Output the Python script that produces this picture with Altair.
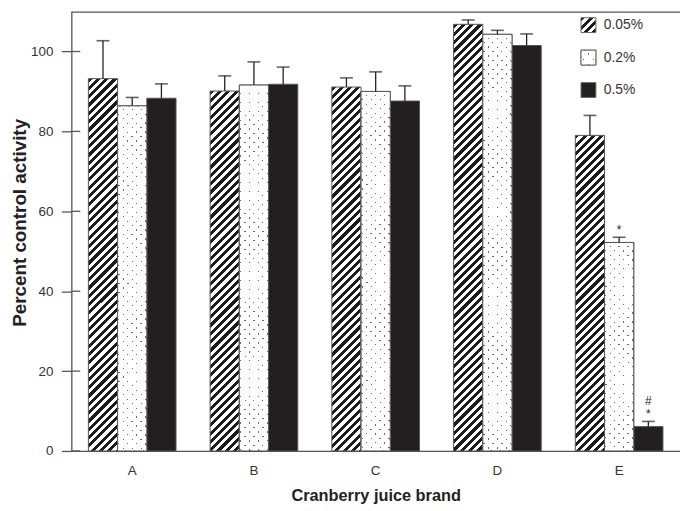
import altair as alt

# ---------------- data ----------------
brands = ["A", "B", "C", "D", "E"]
doses = ["0.05%", "0.2%", "0.5%"]
mean_005 = [93.2, 90.1, 91.1, 106.8, 79.0]
mean_02 = [86.4, 91.6, 90.0, 104.3, 52.2]
mean_05 = [88.3, 91.8, 87.6, 101.5, 6.1]
upper_005 = [102.7, 93.9, 93.4, 107.9, 84.0]
upper_02 = [88.5, 97.4, 94.9, 105.3, 53.5]
upper_05 = [91.9, 96.1, 91.4, 104.4, 7.4]
star_005 = ["", "", "", "", ""]
star_02 = ["", "", "", "", "*"]
star_05 = ["", "", "", "", "*"]
hash_05 = ["", "", "", "", "#"]
y_ticks = [0, 20, 40, 60, 80, 100]

# ---------------- layout / style ----------------
W, H = 615, 444
YMAX = 110
PXU = H / YMAX
PAD_IN, PAD_OUT = 0.28, 0.14
SUB_W = W / len(brands) * (1 - PAD_IN) / len(doses)
FONT = "Liberation Sans"
AX = "#555555"
BLACK = "#231f20"
CLEAR = "rgba(255,255,255,0)"


def r4(v):
    return round(v, 4)


def diag_grad(w, h, period, frac, color, bg, mirror=False):
    """Diagonal stripes at 45 degrees in screen space for a w x h box."""
    r = h / w
    k = (1 + r) / (1 + r * r)
    p = period / (w + h)
    stops = []
    s = 0.0
    while s < 1:
        b = min(s + frac * p, 1)
        c = min(s + p, 1)
        stops += [{"offset": r4(s), "color": color}, {"offset": r4(b), "color": color},
                  {"offset": r4(b), "color": bg}, {"offset": r4(c), "color": bg}]
        s += p
    if mirror:
        return {"gradient": "linear", "x1": 1, "y1": 0, "x2": r4(1 - k), "y2": r4(k * r),
                "stops": stops}
    return {"gradient": "linear", "x1": 0, "y1": 0, "x2": r4(k), "y2": r4(k * r),
            "stops": stops}


def hatch_grad(w, h):
    return diag_grad(w, h, 8.4, 0.5, "#1c1c1c", "white")


def dot_lines_grad(w, h, period=9.0, lw=1.1):
    frac = lw / period * 1.414
    return diag_grad(w, h, period, frac, "#6a6a6a", "white")


def dot_mask_grad(w, h, period=9.0, lw=1.1):
    frac = lw / period * 1.414
    return diag_grad(w, h, period, frac, CLEAR, "white", mirror=True)


means = [mean_005, mean_02, mean_05]
uppers = [upper_005, upper_02, upper_05]
stars = [star_005, star_02, star_05]
hashes = [["", "", "", "", ""], ["", "", "", "", ""], hash_05]

records = []
for di, d in enumerate(doses):
    for bi, b in enumerate(brands):
        v = means[di][bi]
        h = v * PXU
        if di == 0:
            f1, f2 = hatch_grad(SUB_W, h), "white"
        elif di == 1:
            f1, f2 = dot_lines_grad(SUB_W, h), dot_mask_grad(SUB_W, h)
        else:
            f1, f2 = BLACK, BLACK
        records.append({"brand": b, "dose": d, "value": v, "upper": uppers[di][bi],
                        "star": stars[di][bi], "hash": hashes[di][bi],
                        "fill1": f1, "fill2": f2})

data = alt.Data(values=records)

X = alt.X("brand:N", sort=brands, title="Cranberry juice brand",
          scale=alt.Scale(paddingInner=PAD_IN, paddingOuter=PAD_OUT),
          axis=alt.Axis(labelAngle=0, ticks=False, tickSize=0, labelPadding=12.5,
                        labelFontSize=13.5, labelColor="#333333", domainColor=AX,
                        domainWidth=1.3, titleFontSize=16.5, titleFontWeight="bold",
                        titleColor="#222222", titleBaseline="alphabetic",
                        titleX=W / 2, titleY=50))
XO = alt.XOffset("dose:N", sort=doses, scale=alt.Scale(paddingInner=0, paddingOuter=0))

Y_SCALE = alt.Scale(domain=[0, YMAX], nice=False, zero=True)
Y_AXIS = alt.Axis(values=y_ticks, grid=False, tickSize=10, tickColor=AX,
                  tickWidth=1.3, domainColor=AX, domainWidth=1.3,
                  labelFontSize=13.5, labelColor="#333333", labelPadding=8.7,
                  titleFontSize=19, titleFontWeight="bold", titleColor="#222222",
                  titleX=-52, titleY=213, titleAngle=270,
                  titleBaseline="middle", titleAlign="center")


def Yq(field):
    return alt.Y(field, type="quantitative", stack=None, title="Percent control activity",
                 scale=Y_SCALE, axis=Y_AXIS)


base = alt.Chart(data)

bars = base.mark_bar(stroke=AX, strokeWidth=1).encode(
    x=X, xOffset=XO, y=Yq("value"), fill=alt.Fill("fill1:N", scale=None))

dots_overlay = base.transform_filter(alt.datum.dose == "0.2%").mark_bar(
    stroke=AX, strokeWidth=1).encode(
    x=X, xOffset=XO, y=Yq("value"), fill=alt.Fill("fill2:N", scale=None))

err = base.mark_rule(color="#222222", strokeWidth=1.3).encode(
    x=X, xOffset=XO, y=Yq("value"), y2=alt.Y2("upper:Q"))

caps = base.mark_tick(orient="horizontal", size=13, thickness=1.6, color="#222222").encode(
    x=X, xOffset=XO, y=Yq("upper"))

star_txt = base.transform_filter(alt.datum.star != "").mark_text(
    fontSize=12, dy=-3.7, baseline="alphabetic", color="#222222", font=FONT).encode(
    x=X, xOffset=XO, y=Yq("upper"), text="star:N")

hash_txt = base.transform_filter(alt.datum.hash != "").mark_text(
    fontSize=12, dy=-16.5, baseline="alphabetic", color="#222222", font=FONT).encode(
    x=X, xOffset=XO, y=Yq("upper"), text="hash:N")

inner_ticks = alt.Chart(alt.Data(values=[{"t": t} for t in y_ticks])).mark_rule(
    color=AX, strokeWidth=1.3).encode(
    y=Yq("t"), x=alt.value(0), x2=alt.value(9))

top_frame = alt.Chart(alt.Data(values=[{"f": 0}])).mark_rule(
    color=AX, strokeWidth=1.3).encode(
    x=alt.value(0), x2=alt.value(W), y=alt.value(0.6))

# ---------------- legend ----------------
LEG_X0, LEG_SW, LEG_Y0, LEG_DY = 515, 15, 13.7, 32.8
leg_fills = [
    [hatch_grad(LEG_SW, LEG_SW)],
    [dot_lines_grad(LEG_SW, LEG_SW, period=10.6), dot_mask_grad(LEG_SW, LEG_SW, period=10.6)],
    [BLACK],
]
legend_layers = []
for i, lab in enumerate(doses):
    yc = LEG_Y0 + i * LEG_DY
    for f in leg_fills[i]:
        legend_layers.append(
            alt.Chart(alt.Data(values=[{"label": lab}])).mark_rect(
                fill=f, stroke="#666666", strokeWidth=1).encode(
                x=alt.value(LEG_X0), x2=alt.value(LEG_X0 + LEG_SW),
                y=alt.value(yc - LEG_SW / 2), y2=alt.value(yc + LEG_SW / 2)))
    legend_layers.append(
        alt.Chart(alt.Data(values=[{"label": lab}])).mark_text(
            align="left", baseline="middle", fontSize=14, color="#333333", font=FONT).encode(
            x=alt.value(LEG_X0 + LEG_SW + 8), y=alt.value(yc), text="label:N"))

chart = alt.layer(bars, dots_overlay, err, caps, star_txt, hash_txt, inner_ticks,
                  top_frame, *legend_layers).properties(
    width=W, height=H,
    autosize=alt.AutoSizeParams(type="none"),
    padding={"left": 64, "top": 1, "right": 0, "bottom": 53},
).configure(font=FONT).configure_view(stroke=None)

chart.save("out.html", embed_options={"renderer": "svg", "actions": False})
